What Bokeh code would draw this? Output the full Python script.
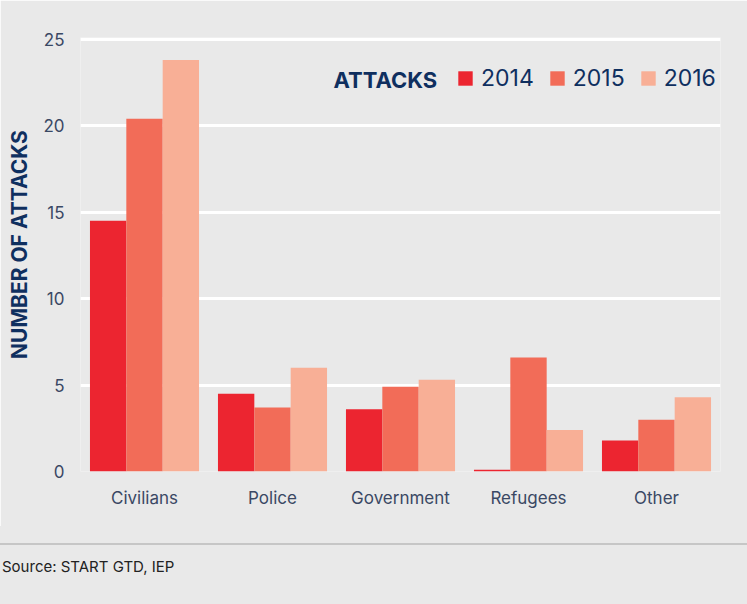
from bokeh.plotting import figure
from bokeh.models import (FactorRange, Range1d, FixedTicker, Legend, LegendItem,
                          Label, Div, ColumnDataSource)
from bokeh.layouts import column
from bokeh.transform import dodge
from bokeh.embed import file_html
from bokeh.resources import INLINE

# ---- data ----
categories = ["Civilians", "Police", "Government", "Refugees", "Other"]
years = ["2014", "2015", "2016"]
attacks_2014 = [14.5, 4.5, 3.6, 0.1, 1.8]
attacks_2015 = [20.4, 3.7, 4.9, 6.6, 3.0]
attacks_2016 = [23.8, 6.0, 5.3, 2.4, 4.3]
y_ticks = [0, 5, 10, 15, 20, 25]

colors = ["#EC2530", "#F26C58", "#F8AF96"]
BG = "#e9e9e9"
NAVY = "#0f2f5f"
TICK = "#3a4864"
FONT = "Inter"

src = ColumnDataSource(dict(cat=categories, y2014=attacks_2014,
                            y2015=attacks_2015, y2016=attacks_2016))

p = figure(x_range=FactorRange(*categories, range_padding=0),
           y_range=Range1d(0, 25.1),
           width=747, height=526,
           min_border_left=80, min_border_right=27,
           min_border_top=37, min_border_bottom=55,
           output_backend="svg", toolbar_location=None)

bw = 0.284
renderers = []
for i, (yr, col) in enumerate(zip(years, colors)):
    r = p.vbar(x=dodge("cat", (i - 1) * bw, range=p.x_range), top="y" + yr,
               width=bw, source=src, fill_color=col, line_color=None)
    renderers.append(r)

p.background_fill_color = BG
p.border_fill_color = BG
p.outline_line_color = None

p.xgrid.grid_line_color = None
p.ygrid.grid_line_color = "white"
p.ygrid.grid_line_width = 3
p.yaxis.ticker = FixedTicker(ticks=y_ticks)

for ax in (p.xaxis, p.yaxis):
    ax.axis_line_color = None
    ax.major_tick_line_color = None
    ax.minor_tick_line_color = None
    ax.major_label_text_font = FONT
    ax.major_label_text_color = TICK
    ax.major_label_text_font_size = "17px"
p.xaxis.major_label_standoff = 10
p.yaxis.major_label_standoff = 10

# y axis title
p.yaxis.axis_label = "\u00a0\u00a0\u00a0\u00a0NUMBER OF ATTACKS"
p.yaxis.axis_label_standoff = 8
p.yaxis.axis_label_text_font = FONT
p.yaxis.axis_label_text_font_style = "bold"
p.yaxis.axis_label_text_font_size = "21px"
p.yaxis.axis_label_text_color = NAVY

# legend
legend = Legend(items=[LegendItem(label=yr, renderers=[r]) for yr, r in zip(years, renderers)],
                orientation="horizontal", location=(376, 379),
                glyph_width=18, glyph_height=18, label_standoff=7, spacing=14,
                padding=0, margin=0, background_fill_alpha=0, border_line_alpha=0,
                label_text_font=FONT, label_text_font_size="23px",
                label_text_color=NAVY)
p.add_layout(legend)
p.add_layout(Label(x=1.977, y=22.67, text="ATTACKS", text_align="left",
                   text_baseline="middle", text_font=FONT, text_font_style="bold",
                   text_font_size="22px", text_color=NAVY))

div = Div(text=('<div style="display:block; width:747px; border-top:2px solid #c6c6c6; '
                'margin-top:17px; padding-top:11px; padding-left:2px; font-family:Inter; '
                'font-size:15px; color:#222;">Source: START GTD, IEP</div>'),
          width=747, height=78, margin=0,
          styles={"background-color": BG, "width": "747px"})

layout = column(p, div, spacing=0)
open("out.html", "w").write(file_html(layout, INLINE))
